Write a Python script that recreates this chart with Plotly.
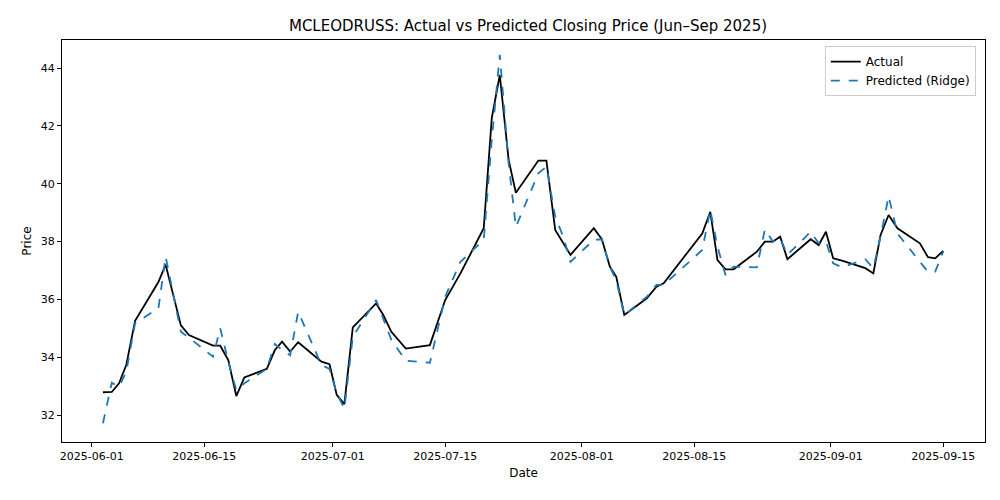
import pandas as pd
import plotly.graph_objects as go

# day offsets from 2025-06-01
day_offset = [1.4, 2.5, 3.4, 4.3, 5.4, 8.3, 9.2, 11.1, 12.1, 15.1, 16.0, 17.0, 18.0, 19.0,
              21.8, 22.8, 23.7, 24.7, 25.7, 28.6, 29.6, 30.5, 31.45, 32.5, 35.4, 36.3, 37.3,
              39.1, 42.1, 44.0, 45.9, 48.8, 49.8, 50.8, 51.9, 52.8, 55.6, 56.6, 57.7, 58.7,
              59.6, 62.5, 63.5, 64.5, 65.3, 66.3, 69.1, 70.3, 71.2, 76.0, 77.0, 77.9, 78.9,
              79.9, 82.8, 83.8, 84.8, 85.7, 86.6, 89.5, 90.5, 91.4, 92.3, 93.4, 96.3, 97.3,
              98.2, 99.2, 100.3, 103.1, 104.1, 105.0, 106.0]
actual = [32.79, 32.8, 33.1, 33.73, 35.26, 36.6, 37.2, 35.1, 34.77, 34.4, 34.4, 33.9, 32.66, 33.3,
          33.6, 34.25, 34.54, 34.2, 34.52, 33.85, 33.76, 32.7, 32.38, 35.03, 35.86, 35.46, 34.88,
          34.3, 34.42, 35.98, 36.9, 38.46, 42.27, 43.76, 40.82, 39.69, 40.8, 40.8, 38.4, 37.94,
          37.54, 38.46, 38.08, 37.13, 36.78, 35.46, 36.04, 36.44, 36.56, 38.28, 39.03, 37.36, 37.04,
          37.04, 37.65, 38.0, 38.0, 38.17, 37.39, 38.08, 37.88, 38.34, 37.42, 37.34, 37.08, 36.9,
          38.23, 38.92, 38.46, 37.94, 37.46, 37.42, 37.68]
predicted = [31.72, 33.12, 32.98, 33.5, 35.18, 35.69, 37.48, 34.88, 34.68, 34.02, 35.0, 33.85, 32.86, 33.1,
             33.6, 34.46, 34.25, 34.07, 35.57, 33.73, 33.6, 32.75, 32.23, 34.71, 35.98, 35.3, 34.6,
             33.88, 33.81, 36.09, 37.3, 38.06, 41.52, 44.46, 40.7, 38.51, 40.36, 40.59, 38.86, 38.17,
             37.3, 38.06, 38.08, 37.13, 36.66, 35.46, 36.09, 36.5, 36.5, 37.71, 39.1, 37.82, 36.84,
             37.13, 37.11, 38.42, 38.0, 38.11, 37.54, 38.34, 37.94, 38.0, 37.25, 37.11, 37.39, 37.08,
             38.17, 39.57, 38.28, 37.3, 36.96, 36.96, 37.65]
tick_dates = ["2025-06-01", "2025-06-15", "2025-07-01", "2025-07-15", "2025-08-01",
              "2025-08-15", "2025-09-01", "2025-09-15"]

start = pd.Timestamp("2025-06-01")
dates = [start + pd.Timedelta(days=d) for d in day_offset]

fig = go.Figure()
fig.add_trace(go.Scatter(x=dates, y=actual, mode="lines", name="Actual",
                         line=dict(color="black", width=1.8)))
fig.add_trace(go.Scatter(x=dates, y=predicted, mode="lines", name="Predicted (Ridge)",
                         line=dict(color="#1f77b4", width=1.8, dash="dash")))

axis = dict(showgrid=False, zeroline=False, showline=True, mirror=True, linecolor="black",
            ticks="outside", ticklen=4, tickcolor="black", tickfont=dict(size=11, color="black"))
fig.update_layout(
    width=1000, height=500, plot_bgcolor="white", paper_bgcolor="white",
    font=dict(family="DejaVu Sans", color="black"),
    margin=dict(l=54, r=23, t=32, b=66),
    title=dict(text="MCLEODRUSS: Actual vs Predicted Closing Price (Jun–Sep 2025)",
               x=0.52, xanchor="center", y=0.975, font=dict(size=15)),
    xaxis=dict(axis, title=dict(text="Date", font=dict(size=12), standoff=6),
               range=[start + pd.Timedelta(days=-3.7), start + pd.Timedelta(days=111.2)],
               tickvals=tick_dates, ticktext=tick_dates),
    yaxis=dict(axis, title=dict(text="Price", font=dict(size=12), standoff=6),
               range=[31.07, 44.97], dtick=2),
    legend=dict(x=0.99, y=0.985, xanchor="right", yanchor="top", bordercolor="#cccccc",
                borderwidth=1, font=dict(size=12), bgcolor="white"),
)
fig.write_html("out.html")
